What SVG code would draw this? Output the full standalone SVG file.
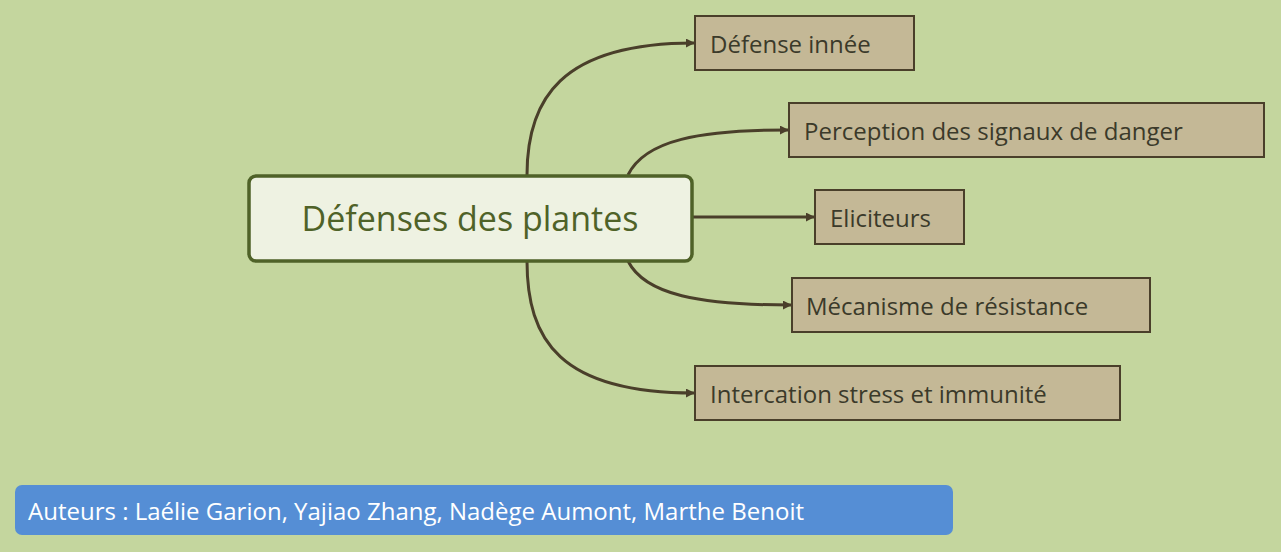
<svg xmlns="http://www.w3.org/2000/svg" width="1281" height="552" viewBox="0 0 1281 552">
<defs>
<style>
.box{fill:#c4b896;stroke:#4a3f2a;stroke-width:2}
.t{font-family:"Open Sans","Noto Sans",sans-serif;font-size:24px;fill:#3b3a2a;dominant-baseline:central}
.c{fill:none;stroke:#4a3f2a;stroke-width:3}
</style>
<marker id="a" viewBox="0 0 10 10" refX="9" refY="5" markerWidth="3" markerHeight="3" orient="auto"><path d="M0,0L10,5L0,10z" fill="#4a3f2a"/></marker>
</defs>
<rect width="1281" height="552" fill="#c4d69e"/>
<g id="connectors">
<path class="c" marker-end="url(#a)" d="M527,175 C527,100 560,43 694,43"/>
<path class="c" marker-end="url(#a)" d="M628,175 C645,140 700,130 788,130"/>
<path class="c" marker-end="url(#a)" d="M692,217 L814,217"/>
<path class="c" marker-end="url(#a)" d="M628,261 C645,295 700,305 791,305"/>
<path class="c" marker-end="url(#a)" d="M527,261 C527,340 560,393 694,393"/>
</g>
<g id="center"><rect x="249" y="176" width="443" height="85" rx="7" fill="#eef2e2" stroke="#4f6228" stroke-width="3.5"/><text x="470" y="218" text-anchor="middle" font-family="Open Sans,Noto Sans,sans-serif" font-size="34" fill="#4f6228" dominant-baseline="central">Défenses des plantes</text></g>
<g id="n1"><rect class="box" x="695" y="16" width="219" height="54"/><text class="t" x="710" y="43">Défense innée</text></g>
<g id="n2"><rect class="box" x="789" y="103" width="475" height="54"/><text class="t" x="804" y="130">Perception des signaux de danger</text></g>
<g id="n3"><rect class="box" x="815" y="190" width="149" height="54"/><text class="t" x="830" y="217">Eliciteurs</text></g>
<g id="n4"><rect class="box" x="792" y="278" width="358" height="54" stroke-width="3"/><text class="t" x="806" y="305">Mécanisme de résistance</text></g>
<g id="n5"><rect class="box" x="695" y="366" width="425" height="54"/><text class="t" x="710" y="393">Intercation stress et immunité</text></g>
<g id="authors"><rect x="15" y="485" width="938" height="50" rx="7" fill="#558ed5"/><text x="28" y="510" font-family="Open Sans,Noto Sans,sans-serif" font-size="24" fill="#ffffff" dominant-baseline="central">Auteurs : Laélie Garion, Yajiao Zhang, Nadège Aumont, Marthe Benoit</text></g>
</svg>
